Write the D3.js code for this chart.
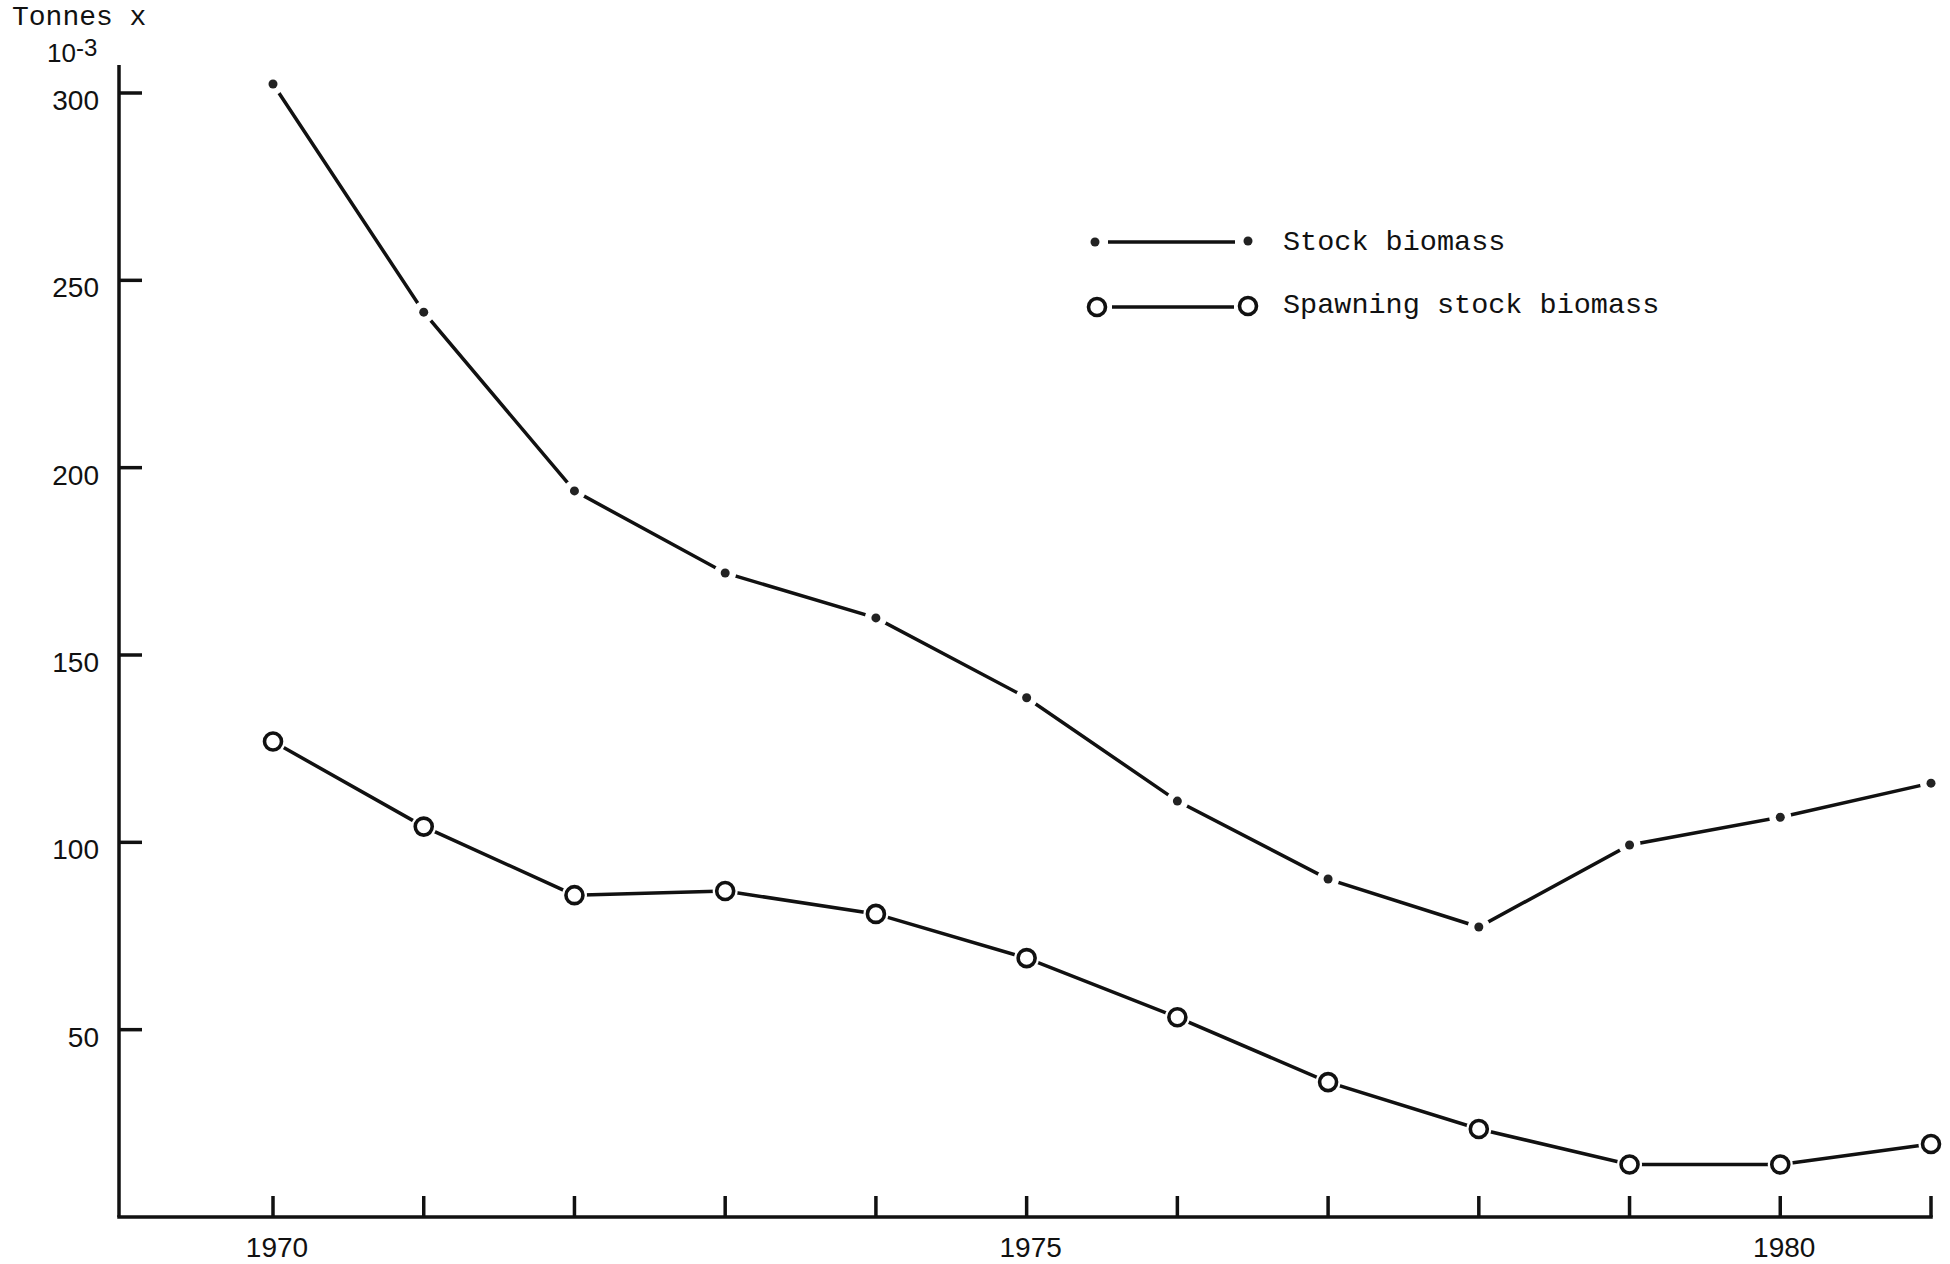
<!DOCTYPE html>
<html>
<head>
<meta charset="utf-8">
<script src="https://cdn.jsdelivr.net/npm/d3@7"></script>
<style>
  html, body { margin: 0; padding: 0; background: #fff; }
  svg { display: block; }
  .mono { font-family: "Liberation Mono", "DejaVu Sans Mono", monospace; fill: #111; }
  .num { font-family: "Liberation Sans", "DejaVu Sans", sans-serif; fill: #111; }
</style>
</head>
<body>
<script>
// ---- data ----
const years = [1970, 1971, 1972, 1973, 1974, 1975, 1976, 1977, 1978, 1979, 1980, 1981];
const stockBiomass = [302.4, 241.5, 193.8, 171.9, 159.9, 138.6, 111.0, 90.2, 77.4, 99.3, 106.7, 115.8];
const spawningBiomass = [126.9, 104.2, 85.9, 87.0, 80.9, 69.1, 53.3, 36.0, 23.5, 14.0, 14.0, 19.5];
const yTicks = [50, 100, 150, 200, 250, 300];
const xTickLabels = [1970, 1975, 1980];
const seriesNames = ["Stock biomass", "Spawning stock biomass"];

const W = 1950, H = 1264;
const svg = d3.select("body").append("svg").attr("width", W).attr("height", H);

const x = d3.scaleLinear().domain([1970, 1981]).range([273, 1931]);
const y = d3.scaleLinear().domain([0, 300]).range([1217, 93]);
const axisX0 = 119;

const ink = "#111";
const sw = 3.5;

// ---- axes ----
svg.append("line").attr("x1", axisX0).attr("x2", axisX0)
  .attr("y1", 65).attr("y2", y(0))
  .attr("stroke", ink).attr("stroke-width", sw);
svg.append("line").attr("x1", axisX0 - 1.75).attr("x2", x(1981) + 1.75)
  .attr("y1", y(0)).attr("y2", y(0))
  .attr("stroke", ink).attr("stroke-width", sw);

const yAxis = svg.append("g");
yAxis.selectAll("line").data(yTicks).join("line")
  .attr("x1", axisX0).attr("x2", axisX0 + 23)
  .attr("y1", d => y(d)).attr("y2", d => y(d))
  .attr("stroke", ink).attr("stroke-width", sw);
yAxis.selectAll("text").data(yTicks).join("text")
  .attr("class", "num")
  .attr("x", 99).attr("y", d => y(d) + 17)
  .attr("text-anchor", "end")
  .attr("font-size", 28)
  .text(d => d);

const xAxis = svg.append("g");
xAxis.selectAll("line").data(years).join("line")
  .attr("x1", d => x(d)).attr("x2", d => x(d))
  .attr("y1", y(0)).attr("y2", y(0) - 21)
  .attr("stroke", ink).attr("stroke-width", sw);
xAxis.selectAll("text").data(xTickLabels).join("text")
  .attr("class", "num")
  .attr("x", d => x(d) + 4).attr("y", 1257)
  .attr("text-anchor", "middle")
  .attr("font-size", 28)
  .text(d => d);

// y axis title
svg.append("text").attr("class", "mono").attr("x", 12).attr("y", 25)
  .attr("font-size", 28).text("Tonnes x");
const t2 = svg.append("text").attr("class", "num").attr("x", 47).attr("y", 62).attr("font-size", 26);
t2.append("tspan").text("10");
t2.append("tspan").attr("dy", -6).attr("font-size", 24).text("-3");

// ---- series ----
const stockPts = years.map((yr, i) => [x(yr), y(stockBiomass[i])]);
const spawnPts = years.map((yr, i) => [x(yr), y(spawningBiomass[i])]);
const line = d3.line();

svg.append("path").attr("d", line(stockPts)).attr("fill", "none")
  .attr("stroke", ink).attr("stroke-width", sw);
svg.append("path").attr("d", line(spawnPts)).attr("fill", "none")
  .attr("stroke", ink).attr("stroke-width", sw);

// halos (gaps around markers)
svg.append("g").selectAll("circle").data(stockPts).join("circle")
  .attr("cx", d => d[0]).attr("cy", d => d[1]).attr("r", 11).attr("fill", "#fff");
svg.append("g").selectAll("circle").data(spawnPts).join("circle")
  .attr("cx", d => d[0]).attr("cy", d => d[1]).attr("r", 12.5).attr("fill", "#fff");

// markers
svg.append("g").selectAll("circle").data(stockPts).join("circle")
  .attr("cx", d => d[0]).attr("cy", d => d[1]).attr("r", 4.5).attr("fill", "#222");
svg.append("g").selectAll("circle").data(spawnPts).join("circle")
  .attr("cx", d => d[0]).attr("cy", d => d[1]).attr("r", 8.5)
  .attr("fill", "#fff").attr("stroke", ink).attr("stroke-width", 3.6);

// ---- legend ----
const lg = svg.append("g");
lg.append("circle").attr("cx", 1095).attr("cy", 242).attr("r", 4.5).attr("fill", "#222");
lg.append("line").attr("x1", 1108).attr("x2", 1235).attr("y1", 242).attr("y2", 242)
  .attr("stroke", ink).attr("stroke-width", sw);
lg.append("circle").attr("cx", 1248).attr("cy", 241).attr("r", 4.5).attr("fill", "#222");
lg.append("text").attr("class", "mono").attr("x", 1283).attr("y", 250)
  .attr("font-size", 28.5).text(seriesNames[0]);
lg.append("circle").attr("cx", 1097).attr("cy", 307).attr("r", 8.5)
  .attr("fill", "#fff").attr("stroke", ink).attr("stroke-width", 3.6);
lg.append("line").attr("x1", 1112).attr("x2", 1234).attr("y1", 307).attr("y2", 307)
  .attr("stroke", ink).attr("stroke-width", sw);
lg.append("circle").attr("cx", 1248).attr("cy", 306).attr("r", 8.5)
  .attr("fill", "#fff").attr("stroke", ink).attr("stroke-width", 3.6);
lg.append("text").attr("class", "mono").attr("x", 1283).attr("y", 313)
  .attr("font-size", 28.5).text(seriesNames[1]);
</script>
</body>
</html>
